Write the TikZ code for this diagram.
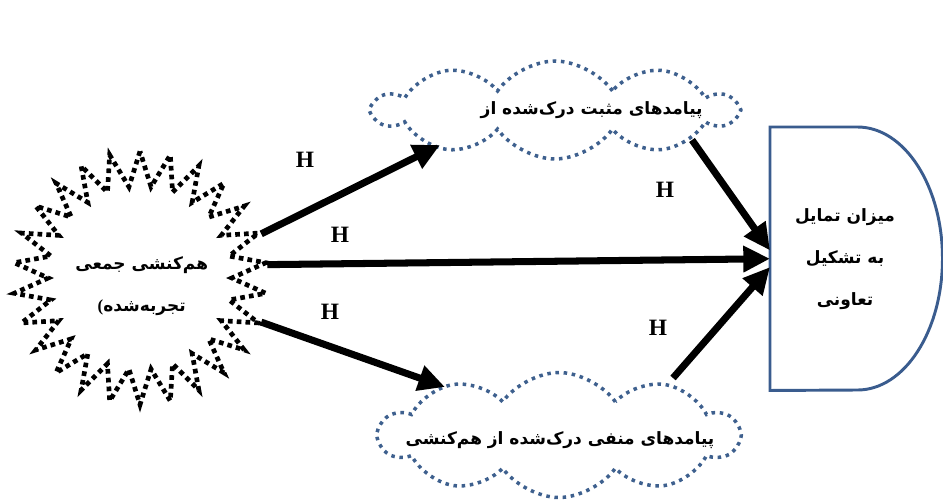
\documentclass[tikz,border=0pt]{standalone}
\usepackage{fontspec}
\setmainfont{Liberation Serif}
\newfontfamily\farsi[Script=Arabic]{DejaVu Sans}
\TeXXeTstate=1
\usetikzlibrary{shapes.geometric,shapes.symbols,arrows.meta}
\definecolor{dotblue}{RGB}{62,96,142}
\definecolor{lineblue}{RGB}{58,92,142}

\tikzset{   burstdot/.style={draw=black,star,star points=26,star point ratio=1.38,minimum size=7.6cm,line width=4pt,dash pattern=on 4pt off 3.5pt,inner sep=0pt},
            clouddot/.style={draw=dotblue,cloud,cloud puffs=10,cloud puff arc=110,cloud ignores aspect,line width=3pt,dash pattern=on 3pt off 4pt},
            arrthick/.style={line width=6pt,-{Triangle[length=0.8cm,width=0.75cm]}},
            hlabel/.style={font=\bfseries\fontsize{20}{20}\selectfont},
            fatext/.style={font=\farsi\bfseries\fontsize{14.5}{36}\selectfont,align=center},
}

\begin{document}
\begin{tikzpicture}
    \useasboundingbox (0,0) rectangle (28.29,-15.03);

    \node[burstdot] (burst) at (4.2,-8.34) {};  % left starburst
    \node[fatext] (bursttext) at (4.25,-8.58) {\beginR هم‌کنشی جمعی\endR\\{\rmfamily(}\beginR تجربه‌شده\endR};

    \node[clouddot,minimum width=10.8cm,minimum height=2.94cm] (posc) at (16.65,-3.3) {};  % clouds
    \node[fatext] (postext) at (17.75,-3.3) {\beginR پیامدهای مثبت درک‌شده از\endR};
    \node[clouddot,minimum width=10.74cm,minimum height=3.75cm] (negc) at (16.77,-13.05) {};
    \node[fatext] (negtext) at (16.8,-13.2) {\beginR پیامدهای منفی درک‌شده از هم‌کنشی\endR};

    \node[minimum width=2.61cm,minimum height=7.89cm,inner sep=0pt,anchor=north west] (goal) at (23.1,-3.81) {};  % D shape
    \draw[lineblue,line width=2.5pt] (goal.north east) arc[start angle=90,end angle=-90,x radius=2.55cm,y radius=3.945cm] -- (goal.south west) -- (goal.north west) -- cycle;
    \node[fatext] (goaltext) at (25.35,-7.77) {\beginR میزان تمایل\endR\\\beginR به تشکیل\endR\\\beginR تعاونی\endR};

    \draw[arrthick] (burst.90-5*360/26) -- ([shift={(-3.45,-1.05)}]posc.center);  % arrows
    \draw[arrthick] (burst.90-6*360/26) -- (goal.west);
    \draw[arrthick] (burst.90-8*360/26) -- ([shift={(-3.42,1.44)}]negc.center);
    \draw[arrthick] ([shift={(4.11,-0.9)}]posc.center) -- ([yshift=0.25cm]goal.west);
    \draw[arrthick] ([shift={(3.42,1.71)}]negc.center) -- ([yshift=-0.25cm]goal.west);

    \node[hlabel] (h1) at (9.15,-4.8) {H};  % labels
    \node[hlabel] (h2) at (10.2,-7.05) {H};
    \node[hlabel] (h3) at (9.9,-9.36) {H};
    \node[hlabel] (h4) at (19.95,-5.7) {H};
    \node[hlabel] (h5) at (19.74,-9.84) {H};
\end{tikzpicture}
\end{document}
